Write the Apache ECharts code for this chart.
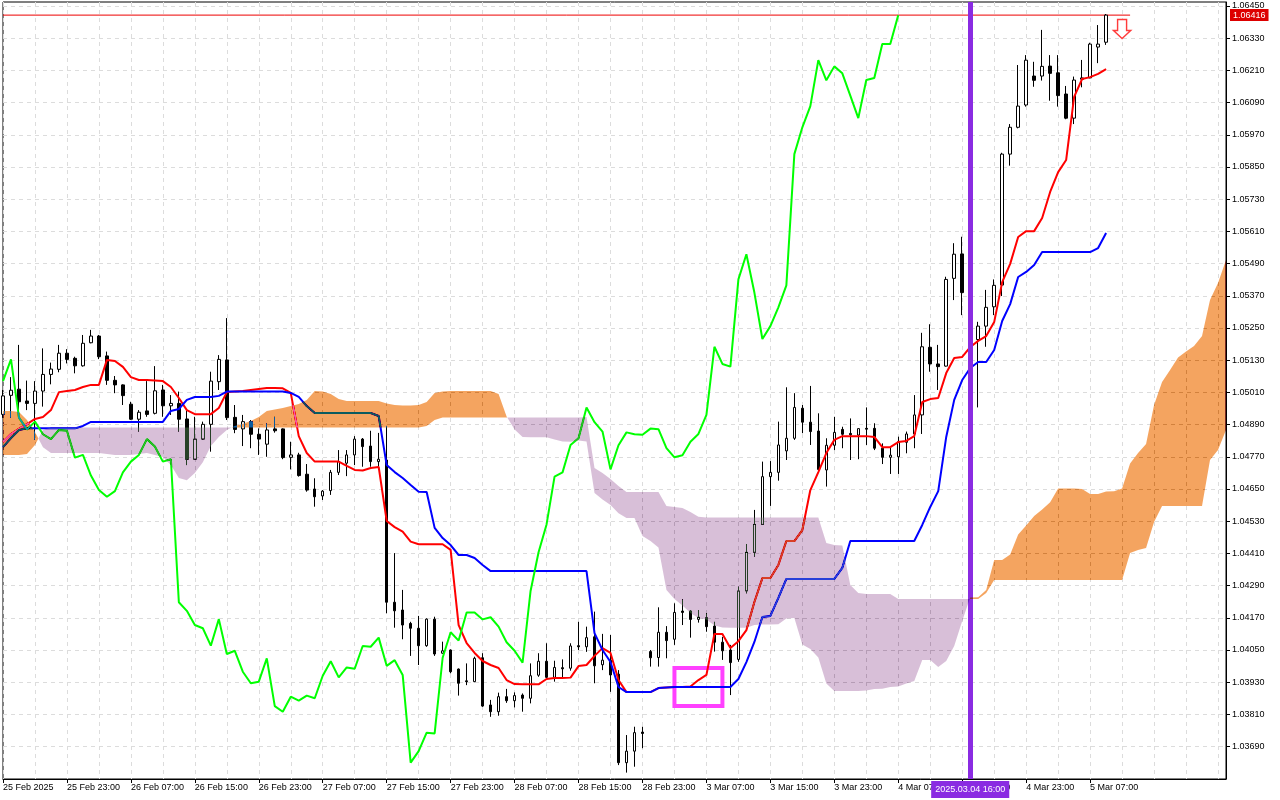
<!DOCTYPE html>
<html><head><meta charset="utf-8">
<script src="https://cdn.jsdelivr.net/npm/echarts@6/dist/echarts.min.js"></script>
<style>html,body{margin:0;padding:0;background:#fff}#c{width:1280px;height:800px;position:relative;isolation:isolate;background:#fff}</style>
</head><body><div id="c"></div><script>
const tickLabels = ["25 Feb 2025","25 Feb 23:00","26 Feb 07:00","26 Feb 15:00","26 Feb 23:00","27 Feb 07:00","27 Feb 15:00","27 Feb 23:00","28 Feb 07:00","28 Feb 15:00","28 Feb 23:00","3 Mar 07:00","3 Mar 15:00","3 Mar 23:00","4 Mar 07:00","4 Mar 15:00","4 Mar 23:00","5 Mar 07:00"];
const yTicks = [1.0645,1.0633,1.0621,1.0609,1.0597,1.0585,1.0573,1.0561,1.0549,1.0537,1.0525,1.0513,1.0501,1.0489,1.0477,1.0465,1.0453,1.0441,1.0429,1.0417,1.0405,1.0393,1.0381,1.0369];

const opens = [1.04928,1.04999,1.05022,1.04978,1.04969,1.05015,1.05077,1.05096,1.05156,1.05137,
1.05109,1.05195,1.0522,1.05146,1.05055,1.05038,1.04966,1.0491,1.04941,1.04932,
1.05019,1.0496,1.04969,1.04911,1.04761,1.04836,1.04891,1.0505,1.05131,1.04917,
1.04874,1.04901,1.04854,1.04817,1.04874,1.04874,1.04768,1.04777,1.04705,1.0465,
1.04624,1.04644,1.04712,1.04746,1.04777,1.04836,1.0481,1.04752,1.04758,1.04228,
1.04199,1.04149,1.04131,1.04066,1.04165,1.04038,1.0405,1.03979,1.03935,1.03932,
1.04021,1.03845,1.0382,1.03876,1.03861,1.03882,1.0387,1.03956,1.04008,1.03948,
1.03984,1.03982,1.04066,1.04062,1.04099,1.03995,1.04012,1.0396,1.0363,1.03673,
1.03744,1.04044,1.04022,1.04116,1.0409,1.04195,1.04195,1.04164,1.0417,1.04139,
1.04079,1.0405,1.04015,1.0427,1.04414,1.04518,1.04696,1.04712,1.04792,1.04839,
1.04951,1.04899,1.04866,1.04721,1.04813,1.04872,1.04857,1.04851,1.04876,1.04876,
1.04802,1.04768,1.0477,1.04824,1.04855,1.04926,1.05178,1.05116,1.05108,1.05435,
1.05526,1.05382,1.05207,1.05257,1.05329,1.0541,1.05898,1.05998,1.06081,1.06189,
1.06189,1.06226,1.06201,1.06122,1.06032,1.06177,1.06182,1.06297,1.06315];
const closes = [1.04997,1.05018,1.04975,1.04969,1.05015,1.05077,1.05097,1.05156,1.05133,1.05109,
1.05193,1.0522,1.05143,1.05055,1.05038,1.04998,1.0491,1.04936,1.04928,1.05016,
1.0496,1.04969,1.0491,1.04761,1.04836,1.04891,1.05052,1.05133,1.04916,1.04872,
1.04901,1.04854,1.04836,1.0487,1.04867,1.04767,1.04777,1.047,1.04646,1.04621,
1.04642,1.04712,1.04752,1.04777,1.04836,1.04808,1.04752,1.04761,1.04228,1.04196,
1.04143,1.04131,1.04066,1.04165,1.04035,1.04047,1.03969,1.03926,1.03932,1.04019,
1.03841,1.0382,1.03876,1.03861,1.0388,1.0387,1.03954,1.04008,1.03948,1.03985,
1.0398,1.04065,1.04062,1.04096,1.03991,1.04012,1.03957,1.0363,1.03673,1.03742,
1.03739,1.04021,1.04116,1.04085,1.0419,1.0419,1.04164,1.04172,1.04137,1.04079,
1.04047,1.04003,1.0427,1.04414,1.04518,1.04696,1.04712,1.04814,1.04839,1.04954,
1.04899,1.04864,1.04723,1.04813,1.04861,1.04854,1.04852,1.04875,1.04873,1.04802,
1.04768,1.04776,1.04826,1.04855,1.04926,1.0518,1.05116,1.05106,1.05431,1.05525,
1.05382,1.05209,1.05257,1.05327,1.05409,1.05898,1.05998,1.06077,1.06248,1.06173,
1.06225,1.06199,1.06116,1.06032,1.06174,1.06182,1.06308,1.06308,1.06416];
const lows = [1.04915,1.04915,1.04918,1.04944,1.04833,1.04957,1.0504,1.05085,1.05118,1.05081,
1.05106,1.05193,1.05134,1.05038,1.05007,1.04963,1.04907,1.04864,1.04919,1.04928,
1.04919,1.04926,1.04864,1.04739,1.04758,1.04833,1.04789,1.05019,1.04907,1.04858,
1.0481,1.04802,1.04777,1.0477,1.0486,1.04761,1.04723,1.04696,1.0464,1.04584,
1.04609,1.04628,1.04702,1.04698,1.04739,1.04733,1.04733,1.04721,1.04187,1.04133,
1.0409,1.04028,1.03994,1.04062,1.04028,1.04036,1.03963,1.0388,1.03919,1.0393,
1.03838,1.03801,1.03805,1.03853,1.03836,1.0382,1.03851,1.0395,1.03944,1.03932,
1.03942,1.03973,1.0405,1.04043,1.03926,1.03975,1.03894,1.03621,1.03593,1.03615,
1.03684,1.03988,1.03988,1.04019,1.04069,1.04143,1.04096,1.04152,1.04118,1.04044,
1.04013,1.03882,1.04006,1.04261,1.04398,1.04516,1.04587,1.04681,1.04758,1.04833,
1.04858,1.04814,1.04721,1.04659,1.04795,1.04802,1.04758,1.04761,1.04814,1.04795,
1.04743,1.04706,1.04706,1.04783,1.04802,1.04855,1.05087,1.05019,1.05106,1.05354,
1.05298,1.05175,1.04954,1.0518,1.05298,1.05369,1.05855,1.05994,1.06075,1.06149,
1.06172,1.06097,1.06075,1.06028,1.0601,1.06147,1.06181,1.06237,1.06305];
const highs = [1.05019,1.05067,1.05187,1.05054,1.05052,1.05174,1.05121,1.05187,1.05171,1.05143,
1.05224,1.05243,1.05224,1.05162,1.05071,1.0504,1.04975,1.04944,1.05052,1.05108,
1.05038,1.05,1.05013,1.04942,1.04919,1.04901,1.05087,1.05149,1.05287,1.04963,
1.04926,1.04907,1.04876,1.04895,1.04919,1.04876,1.04826,1.04785,1.04743,1.0469,
1.04646,1.04721,1.04795,1.04795,1.04847,1.0484,1.04867,1.04859,1.04885,1.04411,
1.04274,1.04155,1.04177,1.04168,1.04174,1.04081,1.04052,1.03981,1.04,1.04025,
1.04038,1.03864,1.03891,1.03905,1.03892,1.03888,1.04,1.04038,1.04075,1.0401,
1.04015,1.04075,1.04155,1.04137,1.04193,1.0411,1.04106,1.03975,1.03733,1.03764,
1.03764,1.0405,1.04209,1.04139,1.04224,1.04239,1.04199,1.04199,1.04187,1.04155,
1.04099,1.04069,1.04286,1.04445,1.04572,1.04752,1.04754,1.04901,1.05029,1.05007,
1.04963,1.05034,1.04932,1.04839,1.04919,1.04882,1.04913,1.04876,1.04954,1.04895,
1.0482,1.04808,1.04845,1.04864,1.05,1.05232,1.05264,1.05187,1.05441,1.05566,
1.0559,1.05395,1.05273,1.05392,1.05431,1.05903,1.0601,1.0623,1.06267,1.06242,
1.06361,1.06267,1.06267,1.06152,1.06187,1.06249,1.06313,1.06379,1.0642];

const tenkan = [1.04825,1.04855,1.04874,1.04892,1.04911,1.04918,1.04944,1.05011,1.05015,1.05019,
1.0503,1.05038,1.05038,1.05131,1.05127,1.05105,1.05067,1.05056,1.05056,1.05054,
1.05052,1.0503,1.04989,1.04944,1.04929,1.04929,1.04929,1.04952,1.05011,1.05013,
1.05015,1.05019,1.05023,1.05026,1.05026,1.05025,1.05008,1.04847,1.04784,1.04752,
1.04752,1.04752,1.04752,1.04736,1.04721,1.04719,1.04728,1.04732,1.04531,1.04508,
1.04491,1.04454,1.04444,1.04444,1.04444,1.04444,1.04423,1.04143,1.04076,1.04039,
1.04009,1.03994,1.03983,1.03938,1.03923,1.03922,1.03922,1.03922,1.03942,1.03946,
1.03946,1.03947,1.0399,1.03994,1.04028,1.04057,1.04039,1.03938,1.03893,1.03893,
1.03893,1.03893,1.03908,1.0391,1.03912,1.03912,1.03914,1.03938,1.03957,1.0411,
1.0411,1.04057,1.04083,1.04124,1.04229,1.04318,1.04318,1.04367,1.04456,1.04456,
1.04497,1.04646,1.04713,1.04784,1.04833,1.04847,1.04847,1.04847,1.04847,1.04844,
1.04806,1.04806,1.04825,1.04829,1.04847,1.04974,1.04985,1.04989,1.05082,1.05138,
1.05142,1.05179,1.05202,1.0522,1.05272,1.05421,1.05489,1.05589,1.05611,1.05611,
1.0566,1.05757,1.05831,1.05876,1.06111,1.06178,1.06185,1.06197,1.06215];
const kijun = [1.04806,1.0484,1.0487,1.04876,1.04876,1.04876,1.04876,1.04876,1.04876,1.04876,
1.04885,1.049,1.049,1.049,1.049,1.049,1.049,1.049,1.049,1.049,
1.049,1.04941,1.04948,1.04982,1.04993,1.04993,1.04993,1.04997,1.05013,1.05013,
1.05013,1.05013,1.05013,1.05013,1.05013,1.05013,1.05008,1.04993,1.04959,1.04933,
1.04933,1.04933,1.04933,1.04933,1.04933,1.04933,1.04933,1.04922,1.04739,1.04713,
1.04691,1.04665,1.0464,1.04639,1.04505,1.04467,1.04441,1.04404,1.04404,1.04393,
1.04367,1.04344,1.04344,1.04344,1.04344,1.04344,1.04344,1.04344,1.04344,1.04344,
1.04344,1.04344,1.04344,1.04344,1.04113,1.0405,1.04005,1.03912,1.03893,1.03893,
1.03893,1.03893,1.03908,1.0391,1.03912,1.03912,1.03912,1.03912,1.03912,1.03912,
1.03912,1.03912,1.03942,1.04005,1.0408,1.04173,1.04177,1.04244,1.04315,1.04315,
1.04315,1.04315,1.04315,1.04315,1.04315,1.04356,1.04456,1.04456,1.04456,1.04456,
1.04456,1.04456,1.04456,1.04456,1.04456,1.04516,1.04583,1.04642,1.04844,1.04982,
1.05056,1.05101,1.05123,1.05123,1.05168,1.05276,1.05339,1.0544,1.05459,1.05485,
1.05533,1.05533,1.05533,1.05533,1.05533,1.05533,1.05533,1.05548,1.05604];
const senkouA = [1.04941,1.04941,1.04937,1.04907,1.04862,1.04806,1.04784,1.04784,1.04784,1.04784,
1.04784,1.04784,1.04784,1.0478,1.04777,1.04777,1.04777,1.0478,1.04784,1.04777,
1.04769,1.04739,1.04691,1.04683,1.0471,1.0475,1.0481,1.04844,1.0487,1.04885,
1.04893,1.04903,1.04918,1.04941,1.04946,1.04952,1.04959,1.04967,1.04982,1.05015,
1.05013,1.05004,1.04985,1.04978,1.04978,1.04978,1.04978,1.04978,1.04969,1.04963,
1.04961,1.04961,1.04963,1.04974,1.05008,1.05013,1.05015,1.05015,1.05015,1.05015,
1.05015,1.05015,1.05004,1.0492,1.04872,1.04844,1.04843,1.04843,1.04843,1.04834,
1.04827,1.04826,1.04831,1.04827,1.04635,1.04611,1.0459,1.0456,1.04542,1.04542,
1.04475,1.04456,1.04432,1.04274,1.0424,1.04216,1.04188,1.04169,1.04164,1.04141,
1.04134,1.04133,1.04133,1.04133,1.04143,1.04145,1.04145,1.04146,1.04167,1.04169,
1.0407,1.04054,1.04022,1.03925,1.03897,1.03897,1.03897,1.03897,1.03899,1.03905,
1.03906,1.03912,1.03914,1.03925,1.03934,1.04013,1.04013,1.03987,1.04009,1.04065,
1.04158,1.04246,1.04247,1.04274,1.04385,1.04385,1.04406,1.0448,1.04514,1.04549,
1.04574,1.04601,1.04652,1.04652,1.04652,1.0465,1.04631,1.04631,1.04641,1.04642,
1.04652,1.04745,1.04784,1.04818,1.04963,1.05049,1.05093,1.0514,1.05162,1.05183,
1.0522,1.05354,1.05418,1.05503];
const senkouB = [1.04777,1.04777,1.04777,1.0478,1.04814,1.0487,1.04879,1.04879,1.04879,1.04879,
1.04879,1.04879,1.04879,1.04879,1.04879,1.04879,1.04879,1.04879,1.04879,1.04879,
1.04879,1.04879,1.04879,1.04879,1.04879,1.04879,1.04879,1.04879,1.04879,1.04879,
1.04879,1.04879,1.04879,1.04879,1.04879,1.04879,1.04879,1.04879,1.04879,1.04879,
1.04879,1.04879,1.04879,1.04879,1.04879,1.04879,1.04879,1.04879,1.04879,1.04879,
1.04879,1.04879,1.04879,1.04885,1.04907,1.04916,1.04916,1.04916,1.04916,1.04916,
1.04916,1.04916,1.04916,1.04916,1.04916,1.04916,1.04916,1.04916,1.04916,1.04916,
1.04916,1.04916,1.04916,1.04918,1.04728,1.0471,1.04687,1.04661,1.04639,1.04639,
1.04639,1.04639,1.04639,1.04587,1.04583,1.04579,1.04564,1.04547,1.04544,1.04544,
1.04544,1.04544,1.04544,1.04544,1.04544,1.04544,1.04544,1.04544,1.04544,1.04544,
1.04544,1.04544,1.04544,1.04449,1.04441,1.04439,1.04292,1.04262,1.04259,1.04259,
1.04259,1.04259,1.0424,1.0424,1.0424,1.0424,1.0424,1.0424,1.0424,1.0424,
1.0424,1.0424,1.0424,1.04262,1.04311,1.04311,1.04311,1.04311,1.04311,1.04311,
1.04311,1.04311,1.04311,1.04311,1.04311,1.04311,1.04311,1.04311,1.04311,1.04311,
1.04311,1.04411,1.04423,1.0443,1.04527,1.04587,1.04587,1.04587,1.04587,1.04587,
1.04587,1.04758,1.04795,1.0487];

const lastPrice = 1.06416;
const markerIndex = 121;
const markerText = '2025.03.04 16:00';
const boxFrom = [84, 1.03983];
const boxTo = [90, 1.03841];
const arrowAt = [140, 1.06364];
const priceLineEnd = 141;
const chikouShift = 26;

const N = senkouA.length;
const categories = [];
for (let i = 0; i < N; i++) categories.push(String(i));
const candleData = opens.map((o, i) => [o, closes[i], lows[i], highs[i]]);
const chikou = closes.slice(chikouShift);
const priceLine = [[0, lastPrice], [priceLineEnd, lastPrice]];

const FONT = '"Liberation Sans", Arial, sans-serif';
// The cloud sits on its own canvas layer that is composited with CSS "difference",
// like the terminal's inverted fill: these colours give sandy brown / thistle on white.
const ORANGE_D = '#0b5b9f';
const THISTLE_D = '#274027';
const PRICE_RED = '#ee0000';

function renderCloud(params, api) {
  const A = [], B = [];
  for (let i = 0; i < N; i++) { A.push(api.coord([i, senkouA[i]])); B.push(api.coord([i, senkouB[i]])); }
  const sgn = i => (senkouA[i] >= senkouB[i] ? 1 : -1);
  const polys = [];
  let cur = sgn(0), top = [A[0]], bot = [B[0]];
  for (let i = 1; i < N; i++) {
    const s = sgn(i);
    if (s === cur) { top.push(A[i]); bot.push(B[i]); continue; }
    const d0 = senkouA[i-1] - senkouB[i-1], d1 = senkouA[i] - senkouB[i];
    const t = d0 / (d0 - d1);
    const p = [A[i-1][0] + t * (A[i][0] - A[i-1][0]), A[i-1][1] + t * (A[i][1] - A[i-1][1])];
    top.push(p); bot.push(p);
    polys.push({ s: cur, pts: top.concat(bot.slice().reverse()) });
    cur = s; top = [p, A[i]]; bot = [p, B[i]];
  }
  polys.push({ s: cur, pts: top.concat(bot.slice().reverse()) });
  return {
    type: 'group',
    children: polys.map(p => ({
      type: 'polygon',
      shape: { points: p.pts },
      style: { fill: p.s > 0 ? ORANGE_D : THISTLE_D, stroke: null }
    }))
  };
}

const chart = echarts.init(document.getElementById('c'), null, { renderer: 'canvas' });
const yMax = 1.064649, yMin = 1.035692;
const showTick = (idx) => idx % 8 === 0 && idx / 8 < tickLabels.length;

chart.setOption({
  backgroundColor: '#ffffff',
  animation: false,
  grid: { left: 2, top: 2, right: 54, bottom: 21, show: true, borderColor: '#000', borderWidth: 1, backgroundColor: 'transparent' },
  xAxis: {
    type: 'category', data: categories, boundaryGap: false,
    axisLine: { show: true, lineStyle: { color: '#000', width: 1 } },
    axisTick: { show: true, interval: showTick, length: 4, lineStyle: { color: '#000' } },
    axisLabel: { interval: showTick, align: 'left', margin: 4, color: '#000', fontFamily: FONT, fontSize: 9,
      formatter: (v, idx) => (idx % 8 === 0 ? (tickLabels[idx / 8] || '') : '') },
    splitLine: { show: true, interval: 3, lineStyle: { color: '#dcdcdc', type: [4, 4] } }
  },
  yAxis: {
    type: 'value', position: 'right', min: yMin, max: yMax, scale: true,
    axisLine: { show: true, lineStyle: { color: '#000' } },
    axisTick: { show: true, length: 4, customValues: yTicks, lineStyle: { color: '#000' } },
    axisLabel: { customValues: yTicks, margin: 6, color: '#000', fontFamily: FONT, fontSize: 9, formatter: v => v.toFixed(5) },
    splitLine: { show: true, lineStyle: { color: '#dcdcdc', type: [4, 4] } }
  },
  series: [
    { name: 'Bid', type: 'line', data: priceLine, symbol: 'none', z: 1, silent: true, color: PRICE_RED,
      lineStyle: { color: PRICE_RED, width: 1, type: 'solid' } },
    {
      name: 'EURUSD', type: 'candlestick', data: candleData, barWidth: 3, z: 2, silent: true,
      itemStyle: { color: '#ffffff', color0: '#000000', borderColor: '#000000', borderColor0: '#000000', borderColorDoji: '#000000', borderWidth: 1 }
    },
    { name: 'Tenkan', type: 'line', data: tenkan, symbol: 'none', z: 3, silent: true, lineStyle: { color: '#ff0000', width: 2 } },
    { name: 'Kijun', type: 'line', data: kijun, symbol: 'none', z: 3, silent: true, lineStyle: { color: '#0000ff', width: 2 } },
    { name: 'Chikou', type: 'line', data: chikou, symbol: 'none', z: 3, silent: true, lineStyle: { color: '#00ff00', width: 2 } },
    { name: 'Cloud', type: 'custom', data: [[0, senkouA[0]]], renderItem: renderCloud, zlevel: 1, z: 1, silent: true, clip: true },
    {
      name: 'annot', type: 'line', data: [], zlevel: 2, z: 10, silent: true, color: '#8a2be2',
      markLine: {
        silent: true, symbol: ['none', 'none'],
        data: [
          { xAxis: markerIndex, lineStyle: { color: '#8a2be2', width: 5, type: 'solid' },
            label: { show: true, position: 'start', distance: 2, formatter: markerText, color: '#ffffff', backgroundColor: '#8a2be2',
              padding: [4, 4, 3, 4], lineHeight: 10, fontFamily: FONT, fontSize: 9 } }
        ]
      },
      markArea: {
        silent: true,
        itemStyle: { color: 'rgba(0,0,0,0)', borderColor: '#ff40ff', borderWidth: 4 },
        data: [[{ coord: boxFrom }, { coord: boxTo }]]
      },
      markPoint: {
        silent: true,
        data: [{ coord: arrowAt, symbol: 'path://M4,0L13,0L13,11L17,11L8.5,19L0,11L4,11Z', symbolSize: [17, 19],
          itemStyle: { color: '#ffffff', borderColor: '#ff3b3b', borderWidth: 1.5 }, label: { show: false } }]
      }
    }
  ]
});

const pt = chart.convertToPixel({ gridIndex: 0 }, [N - 1, lastPrice]);
chart.setOption({
  graphic: [{
    type: 'text', x: pt[0] + 4, y: pt[1], zlevel: 2, z: 100, silent: true,
    style: { text: lastPrice.toFixed(5), fill: '#ffffff', backgroundColor: '#dd0000', padding: [2, 3, 1, 3],
      font: '9px "Liberation Sans", Arial, sans-serif', verticalAlign: 'middle', align: 'left' }
  }]
});

const cloudCanvas = document.querySelector('#c canvas[data-zr-dom-id="zr_1"]');
if (cloudCanvas) cloudCanvas.style.mixBlendMode = 'difference';
</script></body></html>
